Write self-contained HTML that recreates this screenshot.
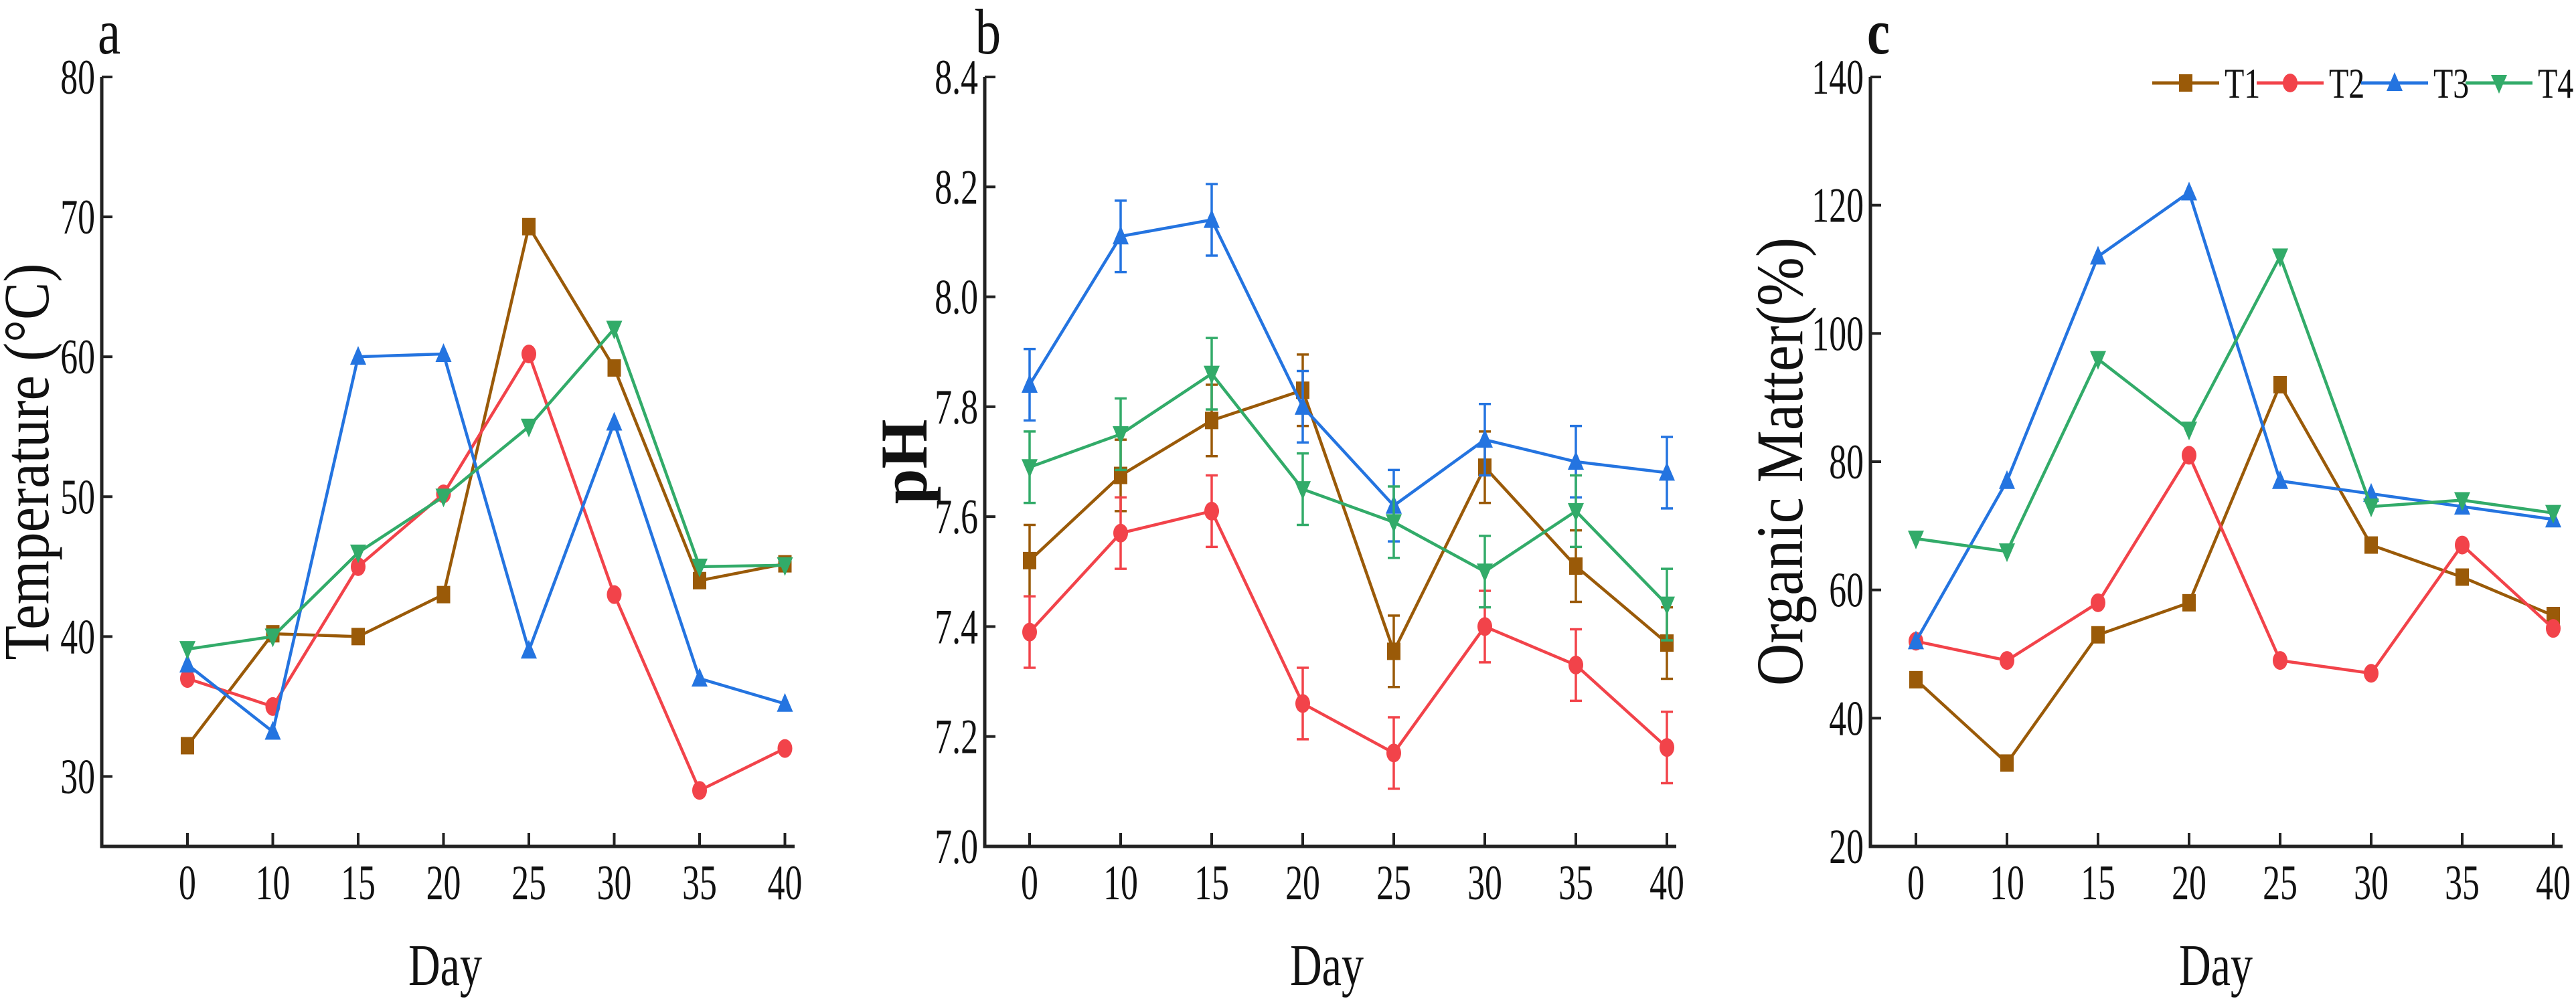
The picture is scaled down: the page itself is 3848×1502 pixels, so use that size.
<!DOCTYPE html>
<html><head><meta charset="utf-8"><style>
html,body{margin:0;padding:0;background:#fff;}
svg{display:block;font-family:"Liberation Serif",serif;}
</style></head><body>
<svg id="fig" width="3848" height="1502" viewBox="0 0 3848 1502" xmlns="http://www.w3.org/2000/svg"></svg>
<script>
const days = ["0","10","15","20","25","30","35","40"];
const seriesNames = ["T1","T2","T3","T4"];
const colors = ["#9a5a08","#f2434a","#2474e0","#32ab69"];
const markers = ["square","circle","up","down"];

const tempT1 = [32.2,40.2,40,43,69.3,59.2,44,45.2];
const tempT2 = [37,35,45,50.2,60.2,43,29,32];
const tempT3 = [38,33.2,60,60.2,39,55.3,37,35.2];
const tempT4 = [39.1,40,46,50,55,62,45,45.1];
const tempTicks = [30,40,50,60,70,80];

const phT1 = [7.52,7.675,7.775,7.83,7.355,7.69,7.51,7.37];
const phT2 = [7.39,7.57,7.61,7.26,7.17,7.40,7.33,7.18];
const phT3 = [7.84,8.11,8.14,7.80,7.62,7.74,7.70,7.68];
const phT4 = [7.69,7.75,7.86,7.65,7.59,7.50,7.61,7.44];
const phErr = [0.065,0.065,0.065,0.065,0.065,0.065,0.065,0.065];
const phTicks = [7.0,7.2,7.4,7.6,7.8,8.0,8.2,8.4];

const omT1 = [46,33,53,58,92,67,62,56];
const omT2 = [52,49,58,81,49,47,67,54];
const omT3 = [52,77,112,122,77,75,73,71];
const omT4 = [68,66,96,85,112,73,74,72];
const omTicks = [20,40,60,80,100,120,140];

const NS = "http://www.w3.org/2000/svg";
const svg = document.getElementById('fig');
function el(tag, attrs, parent){
  const e = document.createElementNS(NS, tag);
  for (const k in attrs) e.setAttribute(k, attrs[k]);
  (parent||svg).appendChild(e);
  return e;
}
function txt(str, x, y, size, anchor, parent, sx, rot, weight){
  const t = el('text', {x:0, y:0, 'font-size':size, 'text-anchor':anchor, fill:'#111',
    transform:`translate(${x},${y}) rotate(${rot||0}) scale(${sx||0.7},1)`}, parent);
  if (weight) t.setAttribute('font-weight', weight);
  t.textContent = str;
  return t;
}
function marker(type, cx, cy, color, parent){
  let m;
  if (type==="square") m = el('rect',{x:cx-10,y:cy-13,width:20,height:26,fill:color},parent);
  else if (type==="circle") m = el('ellipse',{cx:cx,cy:cy,rx:11,ry:14,fill:color},parent);
  else if (type==="up") m = el('polygon',{points:`${cx},${cy-16} ${cx+12},${cy+12} ${cx-12},${cy+12}`,fill:color},parent);
  else m = el('polygon',{points:`${cx},${cy+16} ${cx+12},${cy-12} ${cx-12},${cy-12}`,fill:color},parent);
  return m;
}

function panel(cfg){
  const g = el('g',{});
  
  
  const top=115, bottom=1265;
  const y = v => bottom - (v - cfg.ymin)/(cfg.ymax - cfg.ymin)*(bottom-top);
  const x = i => cfg.x0 + i*cfg.dx;
  const ax = el('path',{d:`M${cfg.axL},${y(cfg.ymax)} V${bottom} H${cfg.axR}`,stroke:'#222','stroke-width':5,fill:'none'},g);
   
  cfg.ticks.forEach(v=>{
    el('line',{x1:cfg.axL,x2:cfg.axL+16,y1:y(v),y2:y(v),stroke:'#222','stroke-width':4},g);
    const t = txt(cfg.fmt(v), cfg.axL-10, y(v)+25, 74, 'end', g);
     
  });
  days.forEach((d,i)=>{
    el('line',{x1:x(i),x2:x(i),y1:bottom,y2:bottom-20,stroke:'#222','stroke-width':4},g);
    const t = txt(d, x(i), 1344, 74, 'middle', g);
     
  });
  const xt = txt('Day', cfg.dayX, 1472, 88, 'middle', g, 0.75);
   
  const yt = txt(cfg.ytitle, cfg.ytX, 690, cfg.ytSize, 'middle', g, cfg.ytSx, -90, cfg.ytW);
   
  const lt = txt(cfg.letter, cfg.letterX, 80, 96, 'middle', g, 0.8, 0, cfg.letterW);
   
  cfg.series.forEach((vals,s)=>{
    const sg = el('g',{},g);
    
    
    if (cfg.err){
      vals.forEach((v,i)=>{
        const e=cfg.err[i];
        el('path',{d:`M${x(i)},${y(v+e)} V${y(v-e)} M${x(i)-9},${y(v+e)} H${x(i)+9} M${x(i)-9},${y(v-e)} H${x(i)+9}`,stroke:colors[s],'stroke-width':3.5,fill:'none'},sg);
      });
    }
    const line = el('polyline',{points:vals.map((v,i)=>`${x(i)},${y(v)}`).join(' '),stroke:colors[s],'stroke-width':4.5,fill:'none'},sg);
    
    
    vals.forEach((v,i)=>{
      const m = marker(markers[s], x(i), y(v), colors[s], sg);
      
      
    });
  });
}

panel({name:'panel-a-temperature', ymin:25, ymax:80, ticks:tempTicks, fmt:v=>String(v),
  x0:280, dx:127.5, axL:152, axR:1187, dayX:665, ytitle:'Temperature (°C)', ytX:72, ytSize:96, ytSx:0.88,
  letter:'a', letterX:163, series:[tempT1,tempT2,tempT3,tempT4]});
panel({name:'panel-b-ph', ymin:7.0, ymax:8.4, ticks:phTicks, fmt:v=>v.toFixed(1),
  x0:1538, dx:136, axL:1471, axR:2504, dayX:1982, ytitle:'pH', ytX:1384, ytSize:100, ytSx:0.95, ytW:'bold',
  letter:'b', letterX:1476, series:[phT1,phT2,phT3,phT4], err:phErr});
panel({name:'panel-c-organic-matter', ymin:20, ymax:140, ticks:omTicks, fmt:v=>String(v),
  x0:2862, dx:136, axL:2794, axR:3828, dayX:3310, ytitle:'Organic Matter(%)', ytX:2692, ytSize:100, ytSx:0.88,
  letter:'c', letterX:2806, letterW:'bold', series:[omT1,omT2,omT3,omT4]});

const lg = el('g',{});


seriesNames.forEach((n,s)=>{
  const x0 = 3215 + s*156, ly = 124;
  const eg = el('g',{},lg);
  
  
  el('line',{x1:x0,x2:x0+100,y1:ly,y2:ly,stroke:colors[s],'stroke-width':5},eg);
  marker(markers[s], x0+50, ly, colors[s], eg);
  txt(n, x0+108, ly+22, 64, 'start', eg, 0.75);
});
</script>
</body></html>
